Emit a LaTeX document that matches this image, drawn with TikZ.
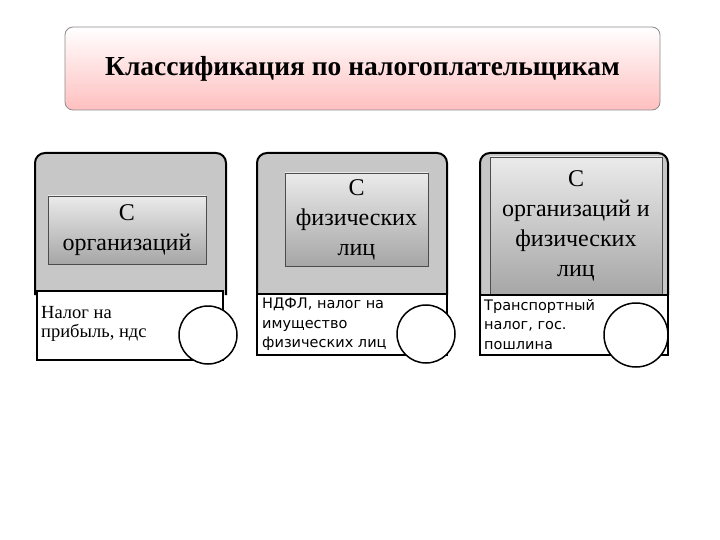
\documentclass[tikz,border=0pt]{standalone}
\usepackage{fontspec}
\setmainfont{Liberation Serif}
\newfontfamily\dv{DejaVu Sans}
\begin{document}
\begin{tikzpicture}[x=1pt,y=-1pt,
 outer/.style={draw=black,line width=2pt,fill=black!22,rounded corners=10pt},
 inner/.style={draw=black!70,line width=0.6pt,top color=black!8,bottom color=black!35,align=center,font=\fontsize{24}{30}\selectfont,inner sep=0pt},
 low/.style={draw=black,line width=1.5pt,fill=white},
 ring/.style={draw=black,line width=1.5pt,fill=white,circle},
 lowtxt/.style={anchor=north west,align=left,inner sep=0pt}]
\useasboundingbox (0,0) rectangle (720,540);
\node[draw=black!45,line width=0.8pt,rounded corners=8pt,top color=white,bottom color=red!25,minimum width=595pt,minimum height=83pt,font=\bfseries\fontsize{27.5}{32}\selectfont] (title) at (362.5,68.5) {Классификация по налогоплательщикам};
% panel 1
\draw[outer] (35,295) -- (35,153) -- (226,153) -- (226,295);
\node[inner,minimum width=158pt,minimum height=68pt] (i1) at (127,230) {С\\организаций};
\node[low,minimum width=186pt,minimum height=69pt] (b1) at (130,325.5) {};
\node[lowtxt,font=\fontsize{18.5}{19.5}\selectfont] (t1) at (41,306) {Налог на\\прибыль, ндс};
\node[ring,minimum size=58pt] (c1) at (208,335) {};
% panel 2
\draw[outer] (257,295) -- (257,153) -- (447,153) -- (447,295);
\node[inner,minimum width=143pt,minimum height=93pt] (i2) at (356.5,219.5) {С\\физических\\лиц};
\node[low,minimum width=190pt,minimum height=61pt] (b2) at (352,324.5) {};
\node[lowtxt,font=\dv\fontsize{14.5}{19.5}\selectfont] (t2) at (262,298) {НДФЛ, налог на\\имущество\\физических лиц};
\node[ring,minimum size=58pt] (c2) at (426,334) {};
% panel 3
\draw[outer] (480,295) -- (480,153) -- (668,153) -- (668,295);
\node[inner,minimum width=172pt,minimum height=138pt] (i3) at (576,226) {С\\организаций и\\физических\\лиц};
\node[low,minimum width=188pt,minimum height=60pt] (b3) at (574,325) {};
\node[lowtxt,font=\dv\fontsize{14.5}{19.5}\selectfont] (t3) at (484,299) {Транспортный\\налог, гос.\\пошлина};
\node[ring,minimum size=64pt] (c3) at (636,335) {};
\end{tikzpicture}
\end{document}
